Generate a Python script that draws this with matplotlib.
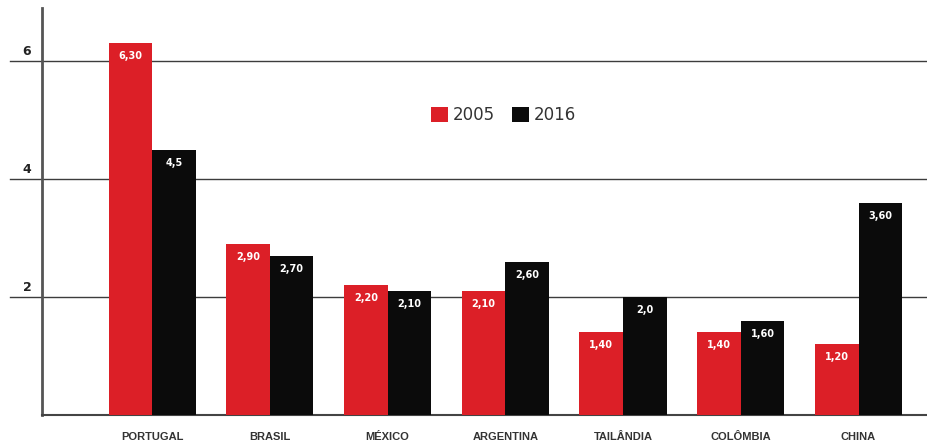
import matplotlib.pyplot as plt
import matplotlib.transforms as mtransforms
import numpy as np

paises = ["PORTUGAL", "BRASIL", "MÉXICO", "ARGENTINA", "TAILÂNDIA", "COLÔMBIA", "CHINA"]
v2005 = [6.30, 2.90, 2.20, 2.10, 1.40, 1.40, 1.20]
v2016 = [4.5, 2.70, 2.10, 2.60, 2.0, 1.60, 3.60]
rot2005 = ["6,30", "2,90", "2,20", "2,10", "1,40", "1,40", "1,20"]
rot2016 = ["4,5", "2,70", "2,10", "2,60", "2,0", "1,60", "3,60"]
yticks = [2, 4, 6]

vermelho = "#dc1f27"
preto = "#0b0b0b"

fig = plt.figure(figsize=(9.28, 4.45), dpi=100)
ax = fig.add_axes([42 / 928, 30 / 445, 886 / 928, 407 / 445])

x = np.arange(len(paises))
w = 0.37
ax.bar(x - w / 2, v2005, w, color=vermelho, label="2005", zorder=3)
ax.bar(x + w / 2, v2016, w, color=preto, label="2016", zorder=3)

# valores dentro das barras
for i in range(len(paises)):
    ax.text(x[i] - w / 2, v2005[i] - 0.22, rot2005[i], color="white", fontsize=7,
            fontweight="bold", ha="center", va="center", zorder=4)
    ax.text(x[i] + w / 2, v2016[i] - 0.22, rot2016[i], color="white", fontsize=7,
            fontweight="bold", ha="center", va="center", zorder=4)

ax.set_xlim(-0.935, 6.59)
ax.set_ylim(0, 6.9)

# linhas de grade que passam um pouco do eixo
trans = mtransforms.blended_transform_factory(ax.transAxes, ax.transData)
for v in yticks:
    ax.plot([-0.036, 1.0], [v, v], color="#3c3c3c", linewidth=1.0, transform=trans,
            clip_on=False, zorder=1)
    ax.text(-0.017, v + 0.17, str(v), transform=trans, ha="center", va="center",
            fontsize=9, fontweight="bold", color="#222222")

for s in ["top", "right"]:
    ax.spines[s].set_visible(False)
ax.spines["left"].set_color("#555555")
ax.spines["left"].set_linewidth(2)
ax.spines["bottom"].set_color("#444444")
ax.spines["bottom"].set_linewidth(1.5)

ax.set_yticks([])
ax.set_xticks(x)
ax.set_xticklabels(paises, fontsize=8, fontweight="bold", color="#333333",
                   family="Liberation Sans")
ax.tick_params(axis="x", length=0, pad=12)

ax.legend(loc="center", bbox_to_anchor=(0.521, 0.737), ncol=2, frameon=False,
          handlelength=1.0, handleheight=1.0, handletextpad=0.3, columnspacing=1.0,
          prop={"size": 12}, labelcolor="#333333")

fig.savefig("out.png", dpi=100)
